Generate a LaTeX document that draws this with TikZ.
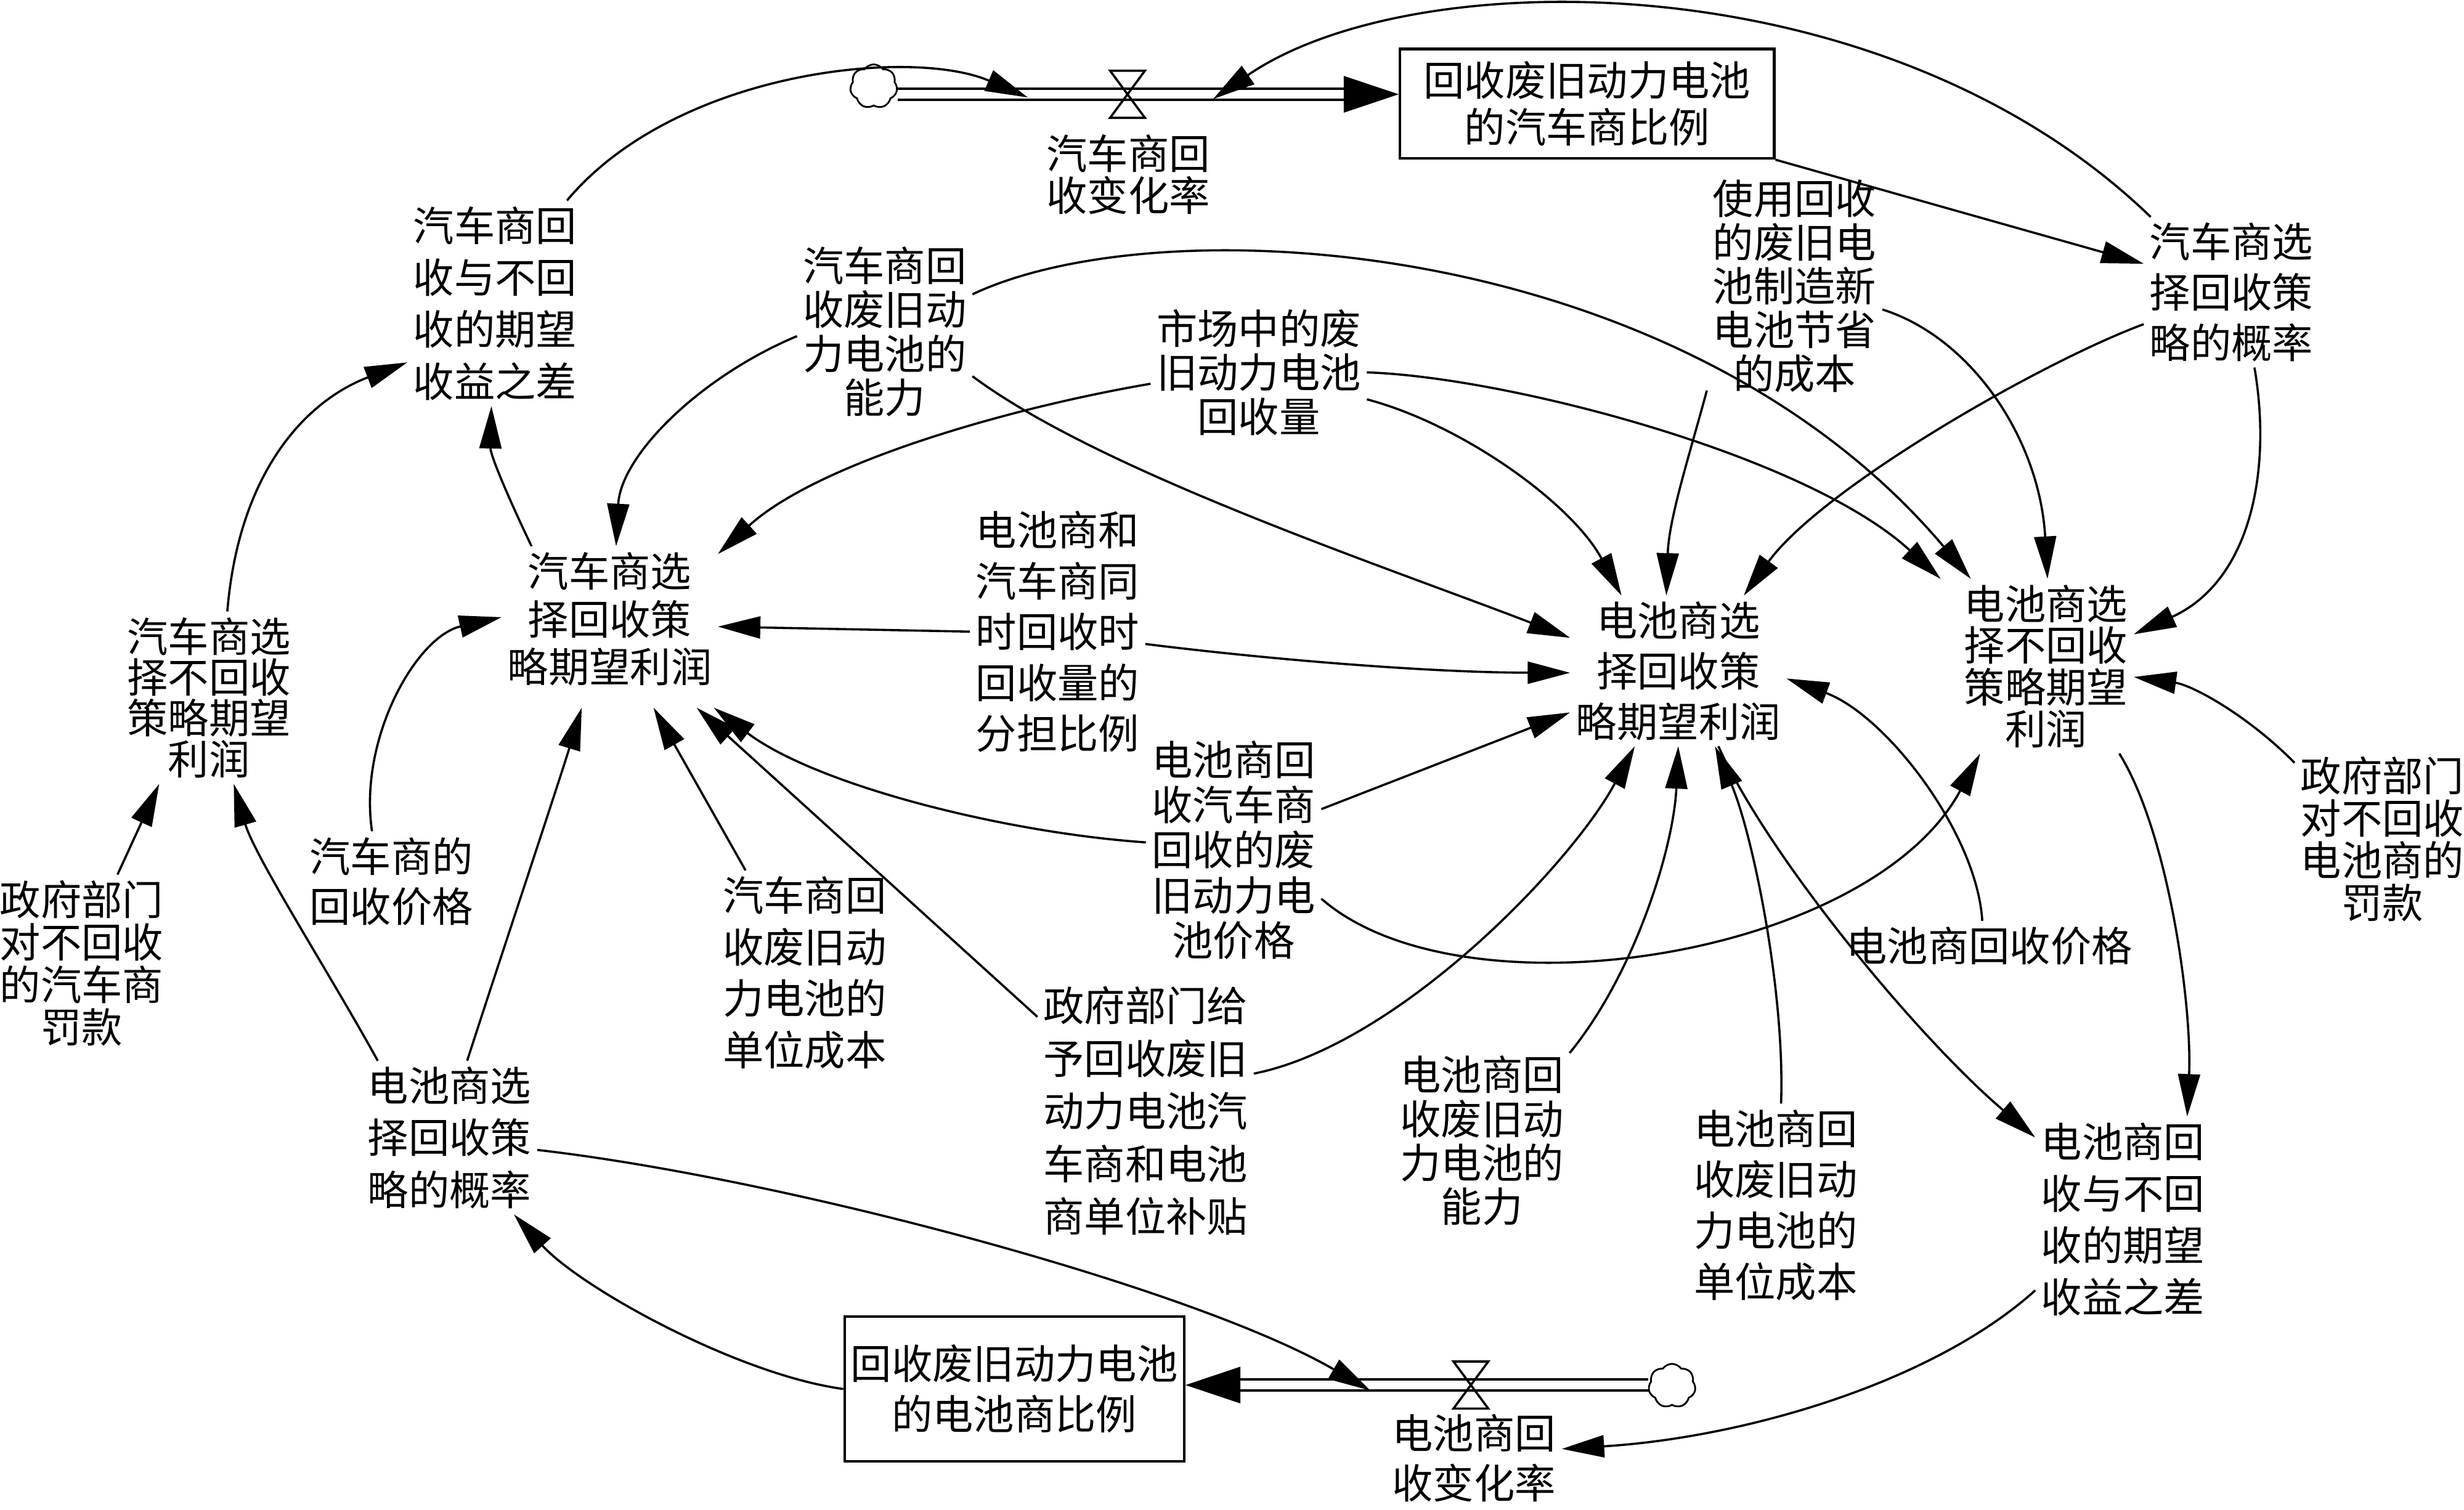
\documentclass[tikz,border=0pt]{standalone}
\usepackage{fontspec}
\newfontfamily\cjk{Noto Sans CJK SC}
\usetikzlibrary{arrows.meta,shapes.symbols,calc}
\begin{document}
\begin{tikzpicture}[x=0.025cm, y=-0.025cm,
  lab/.style={font={\cjk\fontsize{18.5pt}{#1}\selectfont\lineskiplimit=-20pt\relax}, align=center, inner sep=2.5pt},
  lab/.default=22.8pt,
  lk/.style={line width=1pt, -{Triangle[length=0.675cm,width=0.35cm]}},
  flowpipe/.style={line width=1.1pt, double distance=0.14cm, -{Triangle[length=0.875cm,width=0.575cm]}},
  boxst/.style={draw, line width=1.2pt, inner sep=0pt},
  cloudst/.style={cloud, cloud puffs=7, cloud puff arc=110, aspect=0.9, draw, line width=0.8pt, minimum width=0.75cm, minimum height=0.7cm, inner sep=0pt},
  valvest/.style={minimum width=0.54cm, minimum height=0.735cm, inner sep=0pt},
  bowtie/.style={line width=1pt}
]
\fill[white] (0,0) rectangle (1568,961);
\useasboundingbox (0,0) rectangle (1568,961);

% ---------- variables ----------
\node[lab=23.5pt] (diffC) at (315,193) {汽车商回\\收与不回\\收的期望\\收益之差};
\node[lab=19.9pt] (capC) at (563,211) {汽车商回\\收废旧动\\力电池的\\能力};
\node[lab=19.9pt] (mkt) at (801,237) {市场中的废\\旧动力电池\\回收量};
\node[lab=19.8pt] (save) at (1142,182) {使用回收\\的废旧电\\池制造新\\电池节省\\的成本};
\node[lab=22.8pt] (probC) at (1420,186) {汽车商选\\择回收策\\略的概率};
\node[lab=21.7pt] (profC) at (388,394) {汽车商选\\择回收策\\略期望利润};
\node[lab=23pt] (share) at (673,402) {电池商和\\汽车商同\\时回收时\\回收量的\\分担比例};
\node[lab=18.5pt] (nprofC) at (133,444) {汽车商选\\择不回收\\策略期望\\利润};
\node[lab=22.8pt] (priceC) at (249,561) {汽车商的\\回收价格};
\node[lab=19.2pt] (fineC) at (52,613) {政府部门\\对不回收\\的汽车商\\罚款};
\node[lab=23.3pt] (costC) at (512,619) {汽车商回\\收废旧动\\力电池的\\单位成本};
\node[lab=20.4pt] (bprice) at (785,541) {电池商回\\收汽车商\\回收的废\\旧动力电\\池价格};
\node[lab=23.8pt] (subsidy) at (729,707) {政府部门给\\予回收废旧\\动力电池汽\\车商和电池\\商单位补贴};
\node[lab=23.5pt] (probB) at (286,724) {电池商选\\择回收策\\略的概率};
\node[lab=22.8pt] (profB) at (1068,427) {电池商选\\择回收策\\略期望利润};
\node[lab=18.85pt] (nprofB) at (1302,424) {电池商选\\择不回收\\策略期望\\利润};
\node[lab=19.2pt] (fineB) at (1516,534) {政府部门\\对不回收\\电池商的\\罚款};
\node[lab] (bpriceB) at (1266,602) {电池商回收价格};
\node[lab=19.9pt] (capB) at (943,726) {电池商回\\收废旧动\\力电池的\\能力};
\node[lab=23.1pt] (costB) at (1130,767) {电池商回\\收废旧动\\力电池的\\单位成本};
\node[lab=23.5pt] (diffB) at (1351,776) {电池商回\\收与不回\\收的期望\\收益之差};

% ---------- stocks ----------
\node[boxst, lab=21.3pt, minimum width=5.95cm, minimum height=1.74cm] (boxC) at (1010,66) {回收废旧动力电池\\的汽车商比例};
\node[boxst, lab=22.8pt, minimum width=5.4cm, minimum height=2.3cm] (boxB) at (645.5,884) {回收废旧动力电池\\的电池商比例};

% ---------- flows ----------
\node[cloudst] (cloudC) at (556,55) {};
\node[valvest] (valveC) at (717.5,60) {};
\node[lab=19pt] (rateC) at (718,111) {汽车商回\\收变化率};
\draw[flowpipe] (cloudC.east |- valveC) -- (boxC.west |- valveC);
\draw[bowtie] (valveC.north west) -- (valveC.north east) -- (valveC.south west) -- (valveC.south east) -- cycle;

\node[cloudst] (cloudB) at (1064,882) {};
\node[valvest] (valveB) at (936,881.5) {};
\node[lab=22.8pt] (rateB) at (938,928) {电池商回\\收变化率};
\draw[flowpipe] (cloudB.west |- valveB) -- (boxB.east |- valveB);
\draw[bowtie] (valveB.north west) -- (valveB.north east) -- (valveB.south west) -- (valveB.south east) -- cycle;

\coordinate (inC1) at (654,62);
\coordinate (inC2) at (772,63);
\coordinate (inB1) at (872,885);

% ---------- links ----------
\draw[lk] (diffC.55) .. controls (430,45) and (580,30) .. (inC1);
\draw[lk] (probC.137) .. controls (1200,-25) and (900,-25) .. (inC2);
\draw[lk] (boxC.south east) -- (probC.162);
\draw[lk] (nprofC.78) .. controls (152,300) and (195,255) .. (diffC.214);
\draw[lk] (profC.137) .. controls (325,320) and (312,290) .. (diffC.268);
\draw[lk] (capC.183) .. controls (445,240) and (395,290) .. (profC.85);
\draw[lk] (capC.-27) .. controls (700,300) and (880,360) .. (profB.163);
\draw[lk] (capC.23) .. controls (740,130) and (1070,150) .. ([xshift=0.2cm]nprofB.north west);
\draw[lk] (mkt.186) .. controls (640,260) and (520,295) .. (profC.31);
\draw[lk] (mkt.-14) .. controls (930,270) and (1000,320) .. (profB.127);
\draw[lk] (mkt.0) .. controls (960,240) and (1150,290) .. ([xshift=-0.28cm]nprofB.north west);
\draw[lk] (save.230) .. controls (1075,290) and (1062,330) .. (profB.99);
\draw[lk] (save.-15) .. controls (1255,215) and (1298,280) .. (nprofB.89);
\draw[lk] (probC.200) .. controls (1300,230) and (1160,310) .. (profB.49);
\draw[lk] (probC.-73) .. controls (1446,300) and (1432,370) .. (nprofB.20);
\draw[lk] (share.180) -- (profC.-4);
\draw[lk] (share.-8) .. controls (810,420) and (910,428) .. (profB.181);
\draw[lk] (fineC.68) -- (nprofC.240);
\draw[lk] (probB.133) .. controls (210,620) and (162,545) .. (nprofC.-74);
\draw[lk] (probB.77) .. controls (315,620) and (355,500) .. ([yshift=-0.25cm]profC.249);
\draw[lk] (priceC.111) .. controls (228,470) and (265,405) .. (profC.179);
\draw[lk] (costC.120) -- ([yshift=-0.25cm]profC.-59);
\draw[lk] (subsidy.139) -- ([yshift=-0.25cm]profC.-40);
\draw[lk] (bprice.175) .. controls (640,530) and (520,500) .. ([yshift=-0.25cm]profC.-35);
\draw[lk] (bprice.25) -- (profB.201);
\draw[lk] (bprice.-29) .. controls (930,650) and (1190,610) .. (nprofB.233);
\draw[lk] (subsidy.19) .. controls (890,665) and (1000,550) .. (profB.240);
\draw[lk] (capB.45) .. controls (1040,620) and (1065,540) .. (profB.-90);
\draw[lk] (costB.87) .. controls (1136,630) and (1115,530) .. (profB.-64);
\draw[lk] (profB.-62) .. controls (1125,545) and (1220,660) .. (diffB.137);
\draw[lk] (bpriceB.106) .. controls (1258,530) and (1200,455) .. (profB.-4);
\draw[lk] (fineB.139) .. controls (1430,455) and (1395,436) .. (nprofB.-7);
\draw[lk] (nprofB.-50) .. controls (1380,530) and (1395,640) .. (diffB.58);
\draw[lk] (probB.-8) .. controls (500,750) and (760,820) .. (inB1);
\draw[lk] (diffB.219) .. controls (1230,880) and (1110,915) .. (rateB.6);
\draw[lk] (boxB.west) .. controls (470,875) and (370,820) .. (probB.-50);
\end{tikzpicture}
\end{document}
